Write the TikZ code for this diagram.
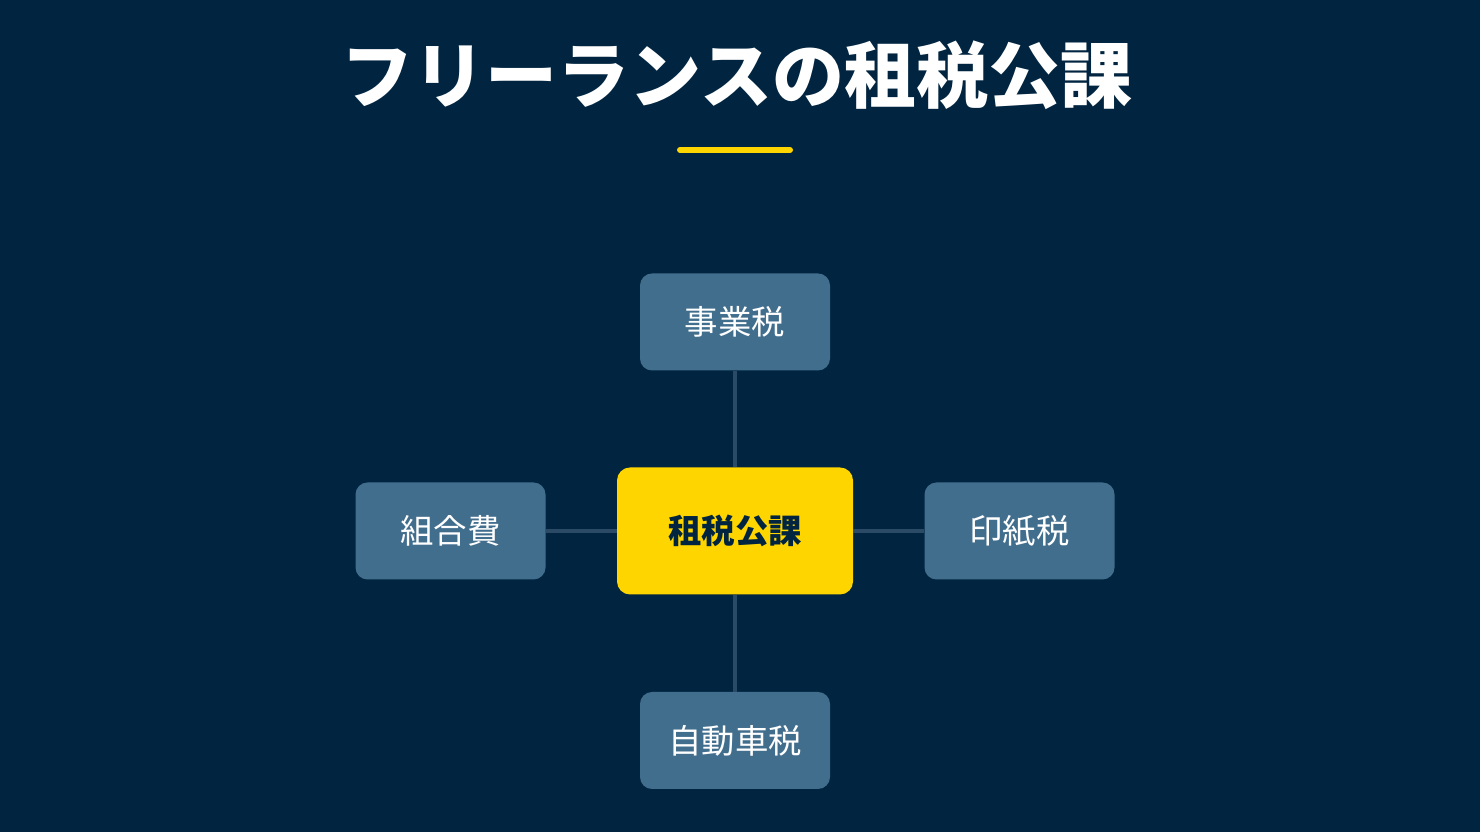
\documentclass[tikz,border=0pt]{standalone}
\usepackage{fontspec}
\newfontfamily\jpfont{Noto Sans CJK JP}
\usetikzlibrary{positioning}
\definecolor{bgblue}{HTML}{012540}
\definecolor{boxblue}{HTML}{426E8E}
\definecolor{hubyellow}{HTML}{FFD500}
\definecolor{linkblue}{HTML}{2A4A66}
\tikzset{
  tax/.style={rectangle, rounded corners=0.24cm, fill=boxblue, text=white,
    minimum width=3.8cm, minimum height=1.94cm, font=\jpfont\fontsize{19}{22}\selectfont},
  hub/.style={rectangle, rounded corners=0.26cm, fill=hubyellow, text=bgblue,
    minimum width=4.72cm, minimum height=2.54cm, font=\jpfont\bfseries\fontsize{19}{22}\selectfont},
  link/.style={draw=linkblue, line width=2pt}
}
\begin{document}
\begin{tikzpicture}
	\fill[bgblue] (0,0) rectangle (29.6,16.64);
	\useasboundingbox (0,0) rectangle (29.6,16.64);
	\node[text=white, font=\jpfont\bfseries\fontsize{41}{48}\selectfont] (title) at (14.74,15.14) {フリーランスの租税公課};
	\draw[hubyellow, line width=3.4pt, line cap=round] (13.6,13.64) -- (15.8,13.64);
	% hub and branches
	\node[hub] (hub) at (14.7,6.02) {租税公課};
	\node[tax] (biz) at (14.7,10.2) {事業税};
	\node[tax] (union) at (9.01,6.02) {組合費};
	\node[tax] (stamp) at (20.39,6.02) {印紙税};
	\node[tax] (car) at (14.7,1.83) {自動車税};
	\foreach \n in {biz,union,stamp,car}{
		\draw[link] (hub) -- (\n);
	}
\end{tikzpicture}
\end{document}
